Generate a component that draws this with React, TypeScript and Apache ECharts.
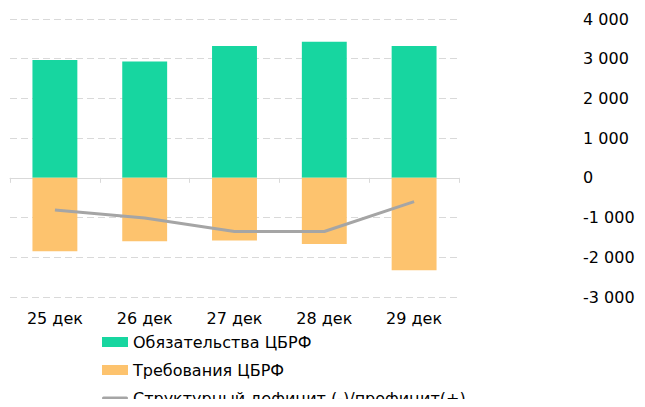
import React, { useEffect, useRef } from "react";
import * as echarts from "echarts";

const categories = ["25 дек", "26 дек", "27 дек", "28 дек", "29 дек"];
const liabilities = [2970, 2930, 3320, 3430, 3320];
const claims = [-1848, -1595, -1580, -1663, -2329];
const structural = [-810, -1013, -1350, -1350, -600];
const seriesNames = [
  "Обязательства ЦБРФ",
  "Требования ЦБРФ",
  "Структурный дефицит (-)/профицит(+)",
];

const FONT = "DejaVu Sans";
const LINE_ICON = "path://M0,0 M26,10 M1.5,3.5 L24.5,3.5 A1.5,1.5 0 0 1 24.5,6.5 L1.5,6.5 A1.5,1.5 0 0 1 1.5,3.5 Z";

export default function App() {
  const ref = useRef<HTMLDivElement>(null);
  useEffect(() => {
    if (!ref.current) return;
    const chart = echarts.init(ref.current, undefined, { renderer: "svg" });
    chart.setOption({
      animation: false,
      textStyle: { fontFamily: FONT },
      grid: { left: 10, right: 186, top: 19, bottom: 110, containLabel: false },
      legend: {
        orient: "vertical",
        left: 97,
        top: 329,
        height: 200,
        itemWidth: 26,
        itemHeight: 10,
        itemGap: 12,
        textStyle: { fontFamily: FONT, fontSize: 16, color: "#000" },
        data: [
          { name: seriesNames[0], icon: "rect" },
          { name: seriesNames[1], icon: "rect" },
          { name: seriesNames[2], icon: LINE_ICON, itemStyle: { color: "#a5a5a5" } },
        ],
      },
      xAxis: [
        {
          type: "category",
          data: categories,
          axisLine: { onZero: true, lineStyle: { color: "#d9d9d9", width: 1 } },
          axisTick: { show: true, length: 5, lineStyle: { color: "#d9d9d9" } },
          axisLabel: { show: false },
          splitLine: { show: false },
        },
        {
          type: "category",
          data: categories,
          position: "bottom",
          axisLine: { show: false, onZero: false },
          axisTick: { show: false },
          axisLabel: { show: true, margin: 13, fontFamily: FONT, fontSize: 16, color: "#000" },
          splitLine: { show: false },
        },
      ],
      yAxis: {
        type: "value",
        position: "right",
        min: -3000,
        max: 4000,
        interval: 1000,
        axisLine: { show: false },
        axisTick: { show: false },
        axisLabel: {
          margin: 124,
          align: "left",
          fontFamily: FONT,
          fontSize: 16,
          color: "#000",
          formatter: (v: number) => {
            const s = Math.abs(v).toString().replace(/\B(?=(\d{3})+(?!\d))/g, " ");
            return (v < 0 ? "-" : "") + s;
          },
        },
        splitLine: { show: true, lineStyle: { color: "#d9d9d9", type: [7, 4], width: 1 } },
      },
      series: [
        {
          name: seriesNames[0],
          type: "bar",
          stack: "a",
          barWidth: "50%",
          data: liabilities,
          itemStyle: { color: "#17d6a0" },
        },
        {
          name: seriesNames[1],
          type: "bar",
          stack: "a",
          barWidth: "50%",
          data: claims,
          itemStyle: { color: "#fdc36e" },
        },
        {
          name: seriesNames[2],
          type: "line",
          data: structural,
          symbol: "none",
          lineStyle: { color: "#a5a5a5", width: 3 },
          itemStyle: { color: "#a5a5a5" },
        },
      ],
    });
    return () => chart.dispose();
  }, []);
  return <div ref={ref} style={{ width: 645, height: 407, margin: -8 }} />;
}
